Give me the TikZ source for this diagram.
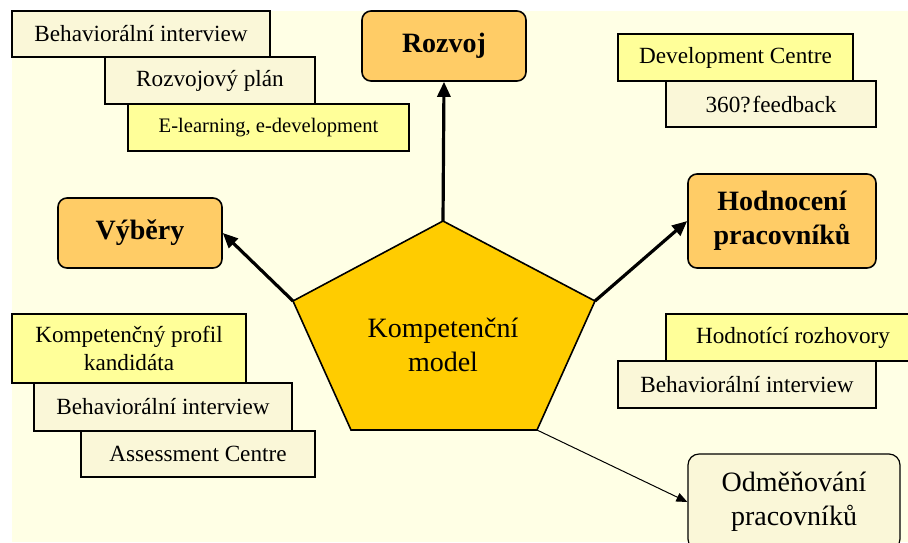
\documentclass[tikz,border=0pt]{standalone}
\usepackage{fontspec}
\setmainfont{Liberation Serif}
\usetikzlibrary{arrows.meta}
\definecolor{bgcream}{HTML}{FFFFE5}
\definecolor{beige}{HTML}{FAF7D8}
\definecolor{lemon}{HTML}{FFFF99}
\definecolor{apricot}{HTML}{FFCC66}
\definecolor{gold}{HTML}{FFCC00}
\tikzset{
  tool/.style={draw=black, line width=1.5pt, inner sep=0pt, align=center,
    font=\fontsize{23.2}{27.5}\selectfont},
  toolpale/.style={tool, fill=beige},
  toolhot/.style={tool, fill=lemon},
  area/.style={draw=black, line width=1.6pt, rounded corners=9pt, fill=apricot,
    inner sep=0pt, align=center, font=\fontsize{28}{34}\selectfont\bfseries},
  reward/.style={draw=black, line width=1.2pt, rounded corners=11pt, fill=beige,
    inner sep=0pt, align=center, font=\fontsize{28}{34}\selectfont},
  boldlink/.style={line width=3.2pt, -{Triangle[length=15pt,width=13pt]}},
  thinlink/.style={line width=1pt, -{Triangle[length=11pt,width=9pt]}},
}
\begin{document}
\begin{tikzpicture}[x=1pt, y=-1pt]
\useasboundingbox (0,0) rectangle (908,542);
\clip (0,0) rectangle (908,542);
\fill[bgcream] (12,11) rectangle (908,542);

% development tools (top left)
\node[toolpale, minimum width=258pt, minimum height=46pt] (bi1) at (141,34) {Behaviorální interview};
\node[toolpale, minimum width=210pt, minimum height=47pt] (rp) at (210,80.5) {Rozvojový plán};
\node[toolhot, minimum width=281pt, minimum height=47pt, font=\fontsize{20.6}{24}\selectfont] (el) at (268.5,127.5) {E-learning, e-development};

% development tools (top right)
\node[toolhot, minimum width=235pt, minimum height=47pt] (dc) at (735.5,57.5) {Development Centre};
\node[toolpale, minimum width=210pt, minimum height=46pt] (fb) at (771,104) {360?\kern2pt feedback};

% selection tools (bottom left)
\node[toolhot, minimum width=234pt, minimum height=69pt] (kp) at (129,348.5) {Kompetenčný profil\\kandidáta};
\node[toolpale, minimum width=258pt, minimum height=48pt] (bi2) at (163,407) {Behaviorální interview};
\node[toolpale, minimum width=234pt, minimum height=46pt] (ac) at (198,454) {Assessment Centre};

% appraisal tools (right)
\node[toolhot, minimum width=254pt, minimum height=47pt] (hr) at (793,337.5) {Hodnotící rozhovory};
\node[toolpale, minimum width=258pt, minimum height=47pt] (bi3) at (747,384.5) {Behaviorální interview};

% main areas
\node[area, minimum width=164pt, minimum height=70pt] (rozvoj) at (444,46) {Rozvoj};
\node[area, minimum width=164pt, minimum height=70pt] (vybery) at (140,233) {Výběry};
\node[area, minimum width=188pt, minimum height=94pt] (hodn) at (782,221) {Hodnocení\\pracovníků};
\node[reward, minimum width=212pt, minimum height=96pt] (odm) at (794,502) {Odměňování\\pracovníků};

% central pentagon
\coordinate (ptop) at (443,221);
\coordinate (pleft) at (293,301);
\coordinate (pright) at (595,301);
\coordinate (pbl) at (351,430);
\coordinate (pbr) at (537,430);
\draw[line width=1.6pt, fill=gold, line join=miter] (ptop) -- (pright) -- (pbr) -- (pbl) -- (pleft) -- cycle;
\node[align=center, font=\fontsize{28}{34}\selectfont] (model) at (443,345) {Kompetenční\\model};

% links from the model
\draw[boldlink] (ptop) -- (rozvoj.south);
\draw[boldlink] (pleft) -- (vybery.east);
\draw[boldlink] (pright) -- (hodn.west);
\draw[thinlink] (pbr) -- (odm.west);
\end{tikzpicture}
\end{document}
